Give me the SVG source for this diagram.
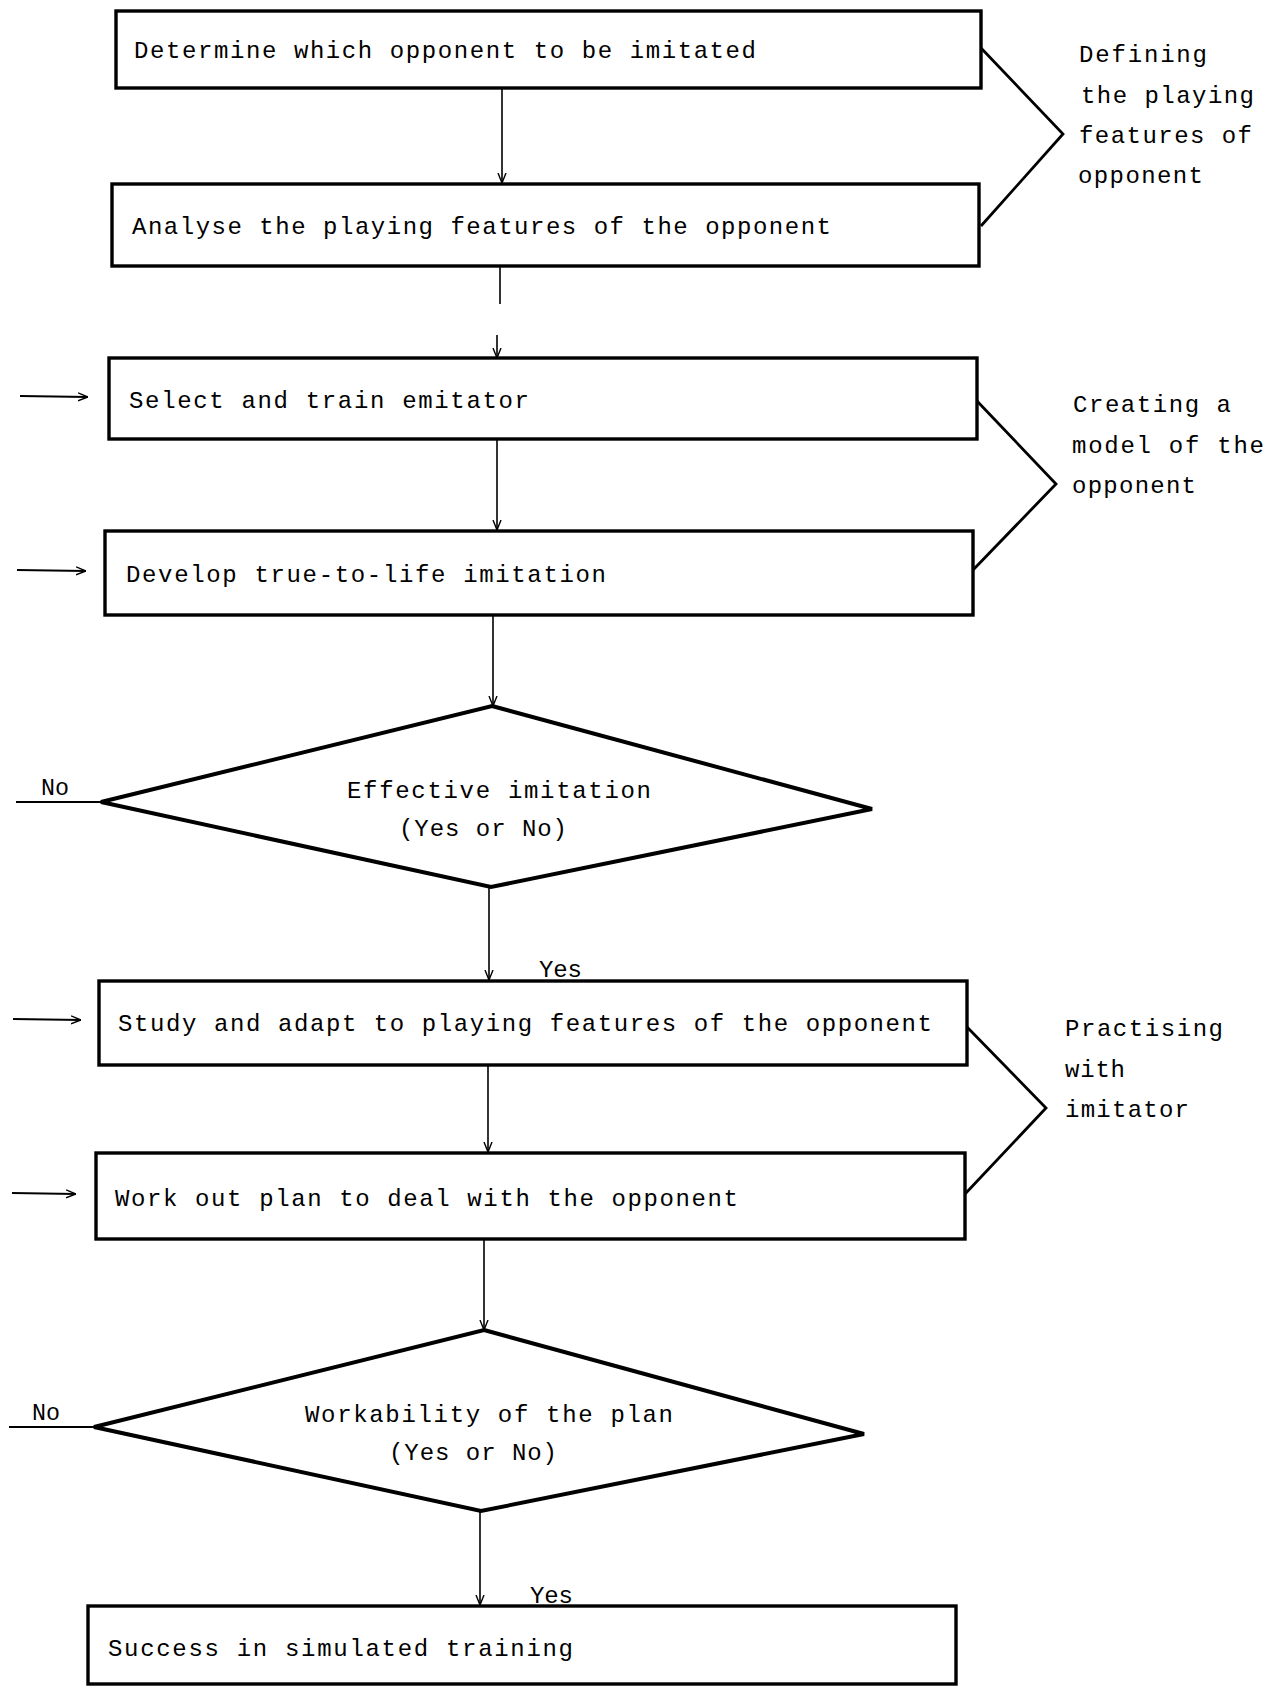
<svg xmlns="http://www.w3.org/2000/svg" width="1281" height="1686" viewBox="0 0 1281 1686">
<style>
  .box { fill: #fff; stroke: #000; stroke-width: 3.4; }
  .dia { fill: #fff; stroke: #000; stroke-width: 4; stroke-linejoin: miter; }
  .br { fill: none; stroke: #000; stroke-width: 2.8; }
  .con { fill: none; stroke: #000; stroke-width: 1.6; }
  .inp { fill: none; stroke: #000; stroke-width: 2.2; }
  .t { font-family: "Liberation Mono", "DejaVu Sans Mono", monospace; font-size: 24px; fill: #000; }
</style>
<defs>
  <marker id="arr" viewBox="0 0 10 10" refX="10" refY="5" markerWidth="10" markerHeight="10" markerUnits="userSpaceOnUse" orient="auto">
    <path d="M0,1 L10,5 L0,9" fill="none" stroke="#000" stroke-width="1.4"/>
  </marker>
</defs>
<rect width="1281" height="1686" fill="#fff"/>

<g id="connectors">
  <line class="con" x1="502" y1="88" x2="502" y2="183" marker-end="url(#arr)"/>
  <line class="con" x1="500" y1="266" x2="500" y2="304"/>
  <line class="con" x1="497" y1="335" x2="497" y2="358" marker-end="url(#arr)"/>
  <line class="con" x1="497" y1="439" x2="497" y2="530" marker-end="url(#arr)"/>
  <line class="con" x1="493" y1="615" x2="493" y2="706" marker-end="url(#arr)"/>
  <line class="con" x1="489" y1="887" x2="489" y2="980" marker-end="url(#arr)"/>
  <line class="con" x1="488" y1="1065" x2="488" y2="1152" marker-end="url(#arr)"/>
  <line class="con" x1="484" y1="1240" x2="484" y2="1330" marker-end="url(#arr)"/>
  <line class="con" x1="480" y1="1511" x2="480" y2="1605" marker-end="url(#arr)"/>
  <!-- input arrows -->
  <line class="inp" x1="20" y1="396" x2="88" y2="397" marker-end="url(#arr)"/>
  <line class="inp" x1="17" y1="570" x2="86" y2="571" marker-end="url(#arr)"/>
  <line class="inp" x1="13" y1="1019" x2="81" y2="1020" marker-end="url(#arr)"/>
  <line class="inp" x1="12" y1="1193" x2="76" y2="1194" marker-end="url(#arr)"/>
  <!-- No lines -->
  <line class="inp" x1="16" y1="802" x2="102" y2="802"/>
  <line class="inp" x1="9" y1="1427" x2="94" y2="1427"/>
  <!-- brackets -->
  <polyline class="br" points="981,48 1063,134 981,226"/>
  <polyline class="br" points="977,401 1056,484 973,570"/>
  <polyline class="br" points="967,1027 1046,1108 965,1194"/>
  <text class="t" x="41" y="795" textLength="28" lengthAdjust="spacingAndGlyphs">No</text>
  <text class="t" x="32" y="1420" textLength="28" lengthAdjust="spacingAndGlyphs">No</text>
  <text class="t" x="539" y="977" textLength="43" lengthAdjust="spacing">Yes</text>
  <text class="t" x="530" y="1603" textLength="43" lengthAdjust="spacing">Yes</text>
</g>

<g id="n1">
  <rect class="box" x="116" y="11" width="865" height="77"/>
  <text class="t" x="134" y="58" textLength="622" lengthAdjust="spacing">Determine which opponent to be imitated</text>
</g>
<g id="n2">
  <rect class="box" x="112" y="184" width="867" height="82"/>
  <text class="t" x="132" y="234" textLength="699" lengthAdjust="spacing">Analyse the playing features of the opponent</text>
</g>
<g id="n3">
  <rect class="box" x="109" y="358" width="868" height="81"/>
  <text class="t" x="129" y="408" textLength="400" lengthAdjust="spacing">Select and train emitator</text>
</g>
<g id="n4">
  <rect class="box" x="105" y="531" width="868" height="84"/>
  <text class="t" x="126" y="582" textLength="480" lengthAdjust="spacing">Develop true-to-life imitation</text>
</g>
<g id="d1">
  <polygon class="dia" points="492,706 872,809 491,887 101,802"/>
  <text class="t" x="347" y="798" textLength="304" lengthAdjust="spacing">Effective imitation</text>
  <text class="t" x="399" y="836" textLength="168" lengthAdjust="spacing">(Yes or No)</text>
</g>
<g id="n5">
  <rect class="box" x="99" y="981" width="868" height="84"/>
  <text class="t" x="118" y="1031" textLength="814" lengthAdjust="spacing">Study and adapt to playing features of the opponent</text>
</g>
<g id="n6">
  <rect class="box" x="96" y="1153" width="869" height="86"/>
  <text class="t" x="115" y="1206" textLength="623" lengthAdjust="spacing">Work out plan to deal with the opponent</text>
</g>
<g id="d2">
  <polygon class="dia" points="484,1330 864,1434 481,1511 94,1427"/>
  <text class="t" x="305" y="1422" textLength="368" lengthAdjust="spacing">Workability of the plan</text>
  <text class="t" x="389" y="1460" textLength="168" lengthAdjust="spacing">(Yes or No)</text>
</g>
<g id="n7">
  <rect class="box" x="88" y="1606" width="868" height="78"/>
  <text class="t" x="108" y="1656" textLength="465" lengthAdjust="spacing">Success in simulated training</text>
</g>

<g id="labels">
  <text class="t" x="1079" y="62" textLength="128" lengthAdjust="spacing">Defining</text>
  <text class="t" x="1081" y="103" textLength="173" lengthAdjust="spacing">the playing</text>
  <text class="t" x="1079" y="143" textLength="173" lengthAdjust="spacing">features of</text>
  <text class="t" x="1078" y="183" textLength="125" lengthAdjust="spacing">opponent</text>
  <text class="t" x="1073" y="412" textLength="158" lengthAdjust="spacing">Creating a</text>
  <text class="t" x="1072" y="453" textLength="192" lengthAdjust="spacing">model of the</text>
  <text class="t" x="1072" y="493" textLength="124" lengthAdjust="spacing">opponent</text>
  <text class="t" x="1065" y="1036" textLength="158" lengthAdjust="spacing">Practising</text>
  <text class="t" x="1065" y="1077" textLength="60" lengthAdjust="spacing">with</text>
  <text class="t" x="1065" y="1117" textLength="124" lengthAdjust="spacing">imitator</text>
</g>
</svg>
